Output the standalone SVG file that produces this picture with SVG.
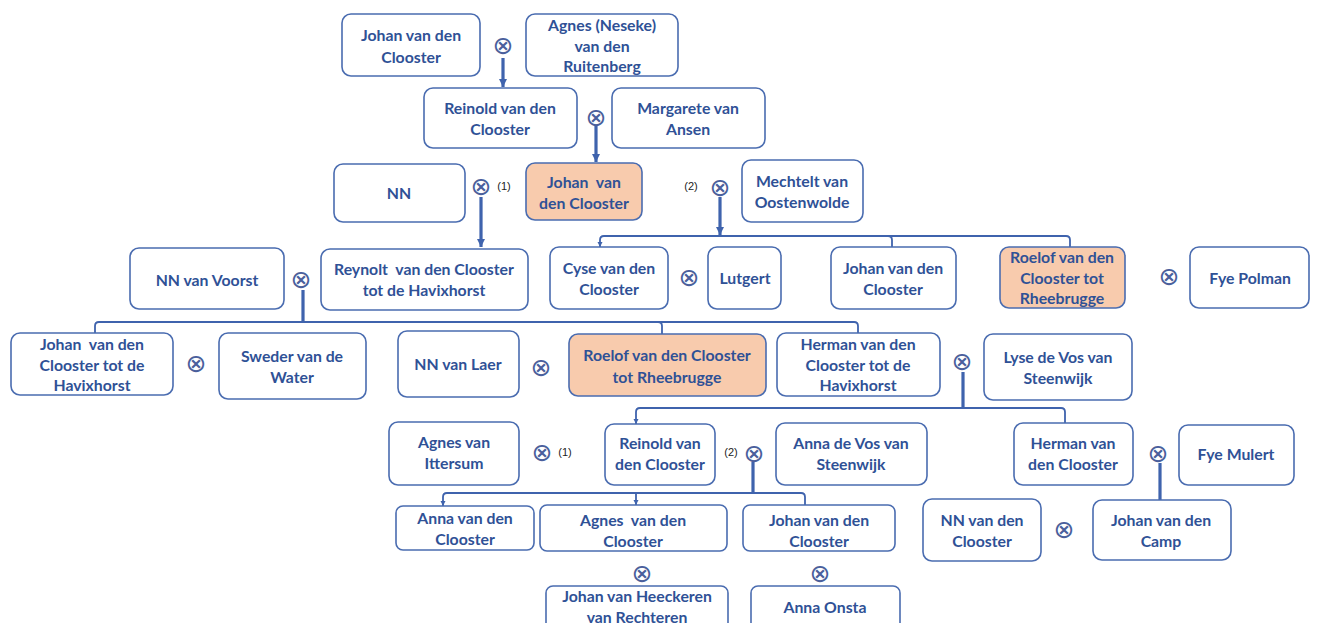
<svg xmlns="http://www.w3.org/2000/svg" width="1318" height="623" viewBox="0 0 1318 623" xml:space="preserve">
<style>
.b{fill:#fff;stroke:#4a6cb0;stroke-width:1.6}
.o{fill:#f8cbad;stroke:#4a6cb0;stroke-width:1.6}
.t{font-family:Lato,"Liberation Sans",sans-serif;font-weight:bold;font-size:15.8px;fill:#2f5196;text-anchor:middle;dominant-baseline:central;white-space:pre}
.x{font-family:"DejaVu Sans",sans-serif;font-size:25px;fill:#4a5f9c;text-anchor:middle;dominant-baseline:central}
.n{font-family:"Liberation Sans",sans-serif;font-size:11px;fill:#222;text-anchor:middle;dominant-baseline:central}
.c{fill:none;stroke:#3f63ad;stroke-width:3.2}
.s{fill:none;stroke:#3f63ad;stroke-width:1.8}
</style>
<defs>
<marker id="a" markerUnits="userSpaceOnUse" markerWidth="10" markerHeight="10" refX="8" refY="5" orient="auto" viewBox="0 0 10 10"><path d="M0,1 L8,5 L0,9 Z" fill="#3f63ad"/></marker>
<marker id="sa" markerUnits="userSpaceOnUse" markerWidth="6" markerHeight="6" refX="5" refY="3" orient="auto" viewBox="0 0 6 6"><path d="M0,0.5 L5,3 L0,5.5 Z" fill="#3f63ad"/></marker>
</defs>

<g id="connectors">
<path class="c" d="M503,58 V87" marker-end="url(#a)"/>
<path class="c" d="M596,126 V162" marker-end="url(#a)"/>
<path class="c" d="M481,197 V247" marker-end="url(#a)"/>
<path class="c" d="M720,197 V235" marker-end="url(#a)"/>
<path class="s" d="M720,236 H604 Q600,236 600,240 V247" marker-end="url(#sa)"/>
<path class="s" d="M720,236 H888 Q892,236 892,240 V247"/>
<path class="s" d="M720,236 H1066 Q1070,236 1070,240 V247"/>
<path class="c" d="M303,290 V322"/>
<path class="s" d="M303,322 H99 Q95,322 95,326 V333"/>
<path class="s" d="M303,322 H658 Q662,322 662,326 V334"/>
<path class="s" d="M303,322 H854 Q858,322 858,326 V333"/>
<path class="c" d="M963,372 V408"/>
<path class="s" d="M963,408 H640 Q636,408 636,412 V424" marker-end="url(#sa)"/>
<path class="s" d="M963,408 H1061 Q1065,408 1065,412 V423"/>
<path class="c" d="M753,462 V493"/>
<path class="s" d="M753,493 H447 Q443,493 443,497 V506" marker-end="url(#sa)"/>
<path class="s" d="M753,493 H636 V505" marker-end="url(#sa)"/>
<path class="s" d="M753,493 H801 Q805,493 805,497 V505"/>
<path class="c" d="M1160,463 V500"/>
</g>

<g id="marriage-symbols">
<text class="x" x="503" y="45">⊗</text>
<text class="x" x="596" y="117">⊗</text>
<text class="x" x="481" y="186">⊗</text>
<text class="n" x="504" y="186">(1)</text>
<text class="n" x="691" y="186">(2)</text>
<text class="x" x="720" y="187">⊗</text>
<text class="x" x="301" y="279">⊗</text>
<text class="x" x="689" y="277">⊗</text>
<text class="x" x="1169" y="276">⊗</text>
<text class="x" x="196" y="363">⊗</text>
<text class="x" x="541" y="367">⊗</text>
<text class="x" x="962" y="361">⊗</text>
<text class="x" x="542" y="452">⊗</text>
<text class="n" x="565" y="452">(1)</text>
<text class="n" x="731" y="452">(2)</text>
<text class="x" x="754" y="453">⊗</text>
<text class="x" x="1158" y="453">⊗</text>
<text class="x" x="1064" y="529">⊗</text>
<text class="x" x="642" y="573">⊗</text>
<text class="x" x="820" y="573">⊗</text>
</g>

<g id="n1"><rect class="b" x="342" y="14" width="138" height="62" rx="9"/><text class="t" x="411" y="34">Johan van den</text><text class="t" x="411" y="56">Clooster</text></g>
<g id="n2"><rect class="b" x="526" y="14" width="152" height="62" rx="9"/><text class="t" x="602" y="24">Agnes (Neseke)</text><text class="t" x="602" y="45">van den</text><text class="t" x="602" y="65">Ruitenberg</text></g>
<g id="n3"><rect class="b" x="424" y="88" width="153" height="60" rx="9"/><text class="t" x="500" y="107">Reinold van den</text><text class="t" x="500" y="128">Clooster</text></g>
<g id="n4"><rect class="b" x="612" y="88" width="153" height="60" rx="9"/><text class="t" x="688" y="107">Margarete van</text><text class="t" x="688" y="128">Ansen</text></g>
<g id="n5"><rect class="b" x="334" y="164" width="131" height="58" rx="9"/><text class="t" x="399" y="192">NN</text></g>
<g id="n6"><rect class="o" x="526" y="163" width="116" height="57" rx="9"/><text class="t" x="584" y="181">Johan  van</text><text class="t" x="584" y="202">den Clooster</text></g>
<g id="n7"><rect class="b" x="742" y="160" width="121" height="62" rx="9"/><text class="t" x="802" y="180">Mechtelt van</text><text class="t" x="802" y="201">Oostenwolde</text></g>
<g id="n8"><rect class="b" x="130" y="248" width="154" height="61" rx="9"/><text class="t" x="207" y="279">NN van Voorst</text></g>
<g id="n9"><rect class="b" x="321" y="249" width="207" height="61" rx="9"/><text class="t" x="424" y="268">Reynolt  van den Clooster</text><text class="t" x="424" y="289">tot de Havixhorst</text></g>
<g id="n10"><rect class="b" x="550" y="247" width="118" height="62" rx="9"/><text class="t" x="609" y="267">Cyse van den</text><text class="t" x="609" y="288">Clooster</text></g>
<g id="n11"><rect class="b" x="708" y="247" width="73" height="62" rx="9"/><text class="t" x="745" y="277">Lutgert</text></g>
<g id="n12"><rect class="b" x="831" y="247" width="125" height="62" rx="9"/><text class="t" x="893" y="267">Johan van den</text><text class="t" x="893" y="288">Clooster</text></g>
<g id="n13"><rect class="o" x="1000" y="247" width="125" height="61" rx="9"/><text class="t" x="1062" y="256">Roelof van den</text><text class="t" x="1062" y="277">Clooster tot</text><text class="t" x="1062" y="297">Rheebrugge</text></g>
<g id="n14"><rect class="b" x="1190" y="247" width="119" height="61" rx="9"/><text class="t" x="1250" y="277">Fye Polman</text></g>
<g id="n15"><rect class="b" x="11" y="333" width="162" height="62" rx="9"/><text class="t" x="92" y="343">Johan  van den</text><text class="t" x="92" y="364">Clooster tot de</text><text class="t" x="92" y="384">Havixhorst</text></g>
<g id="n16"><rect class="b" x="219" y="333" width="147" height="66" rx="9"/><text class="t" x="292" y="355">Sweder van de</text><text class="t" x="292" y="376">Water</text></g>
<g id="n17"><rect class="b" x="398" y="331" width="121" height="66" rx="9"/><text class="t" x="458" y="363">NN van Laer</text></g>
<g id="n18"><rect class="o" x="569" y="334" width="197" height="62" rx="9"/><text class="t" x="667" y="354">Roelof van den Clooster</text><text class="t" x="667" y="376">tot Rheebrugge</text></g>
<g id="n19"><rect class="b" x="777" y="333" width="163" height="63" rx="9"/><text class="t" x="858" y="343">Herman van den</text><text class="t" x="858" y="364">Clooster tot de</text><text class="t" x="858" y="384">Havixhorst</text></g>
<g id="n20"><rect class="b" x="984" y="334" width="148" height="66" rx="9"/><text class="t" x="1058" y="356">Lyse de Vos van</text><text class="t" x="1058" y="377">Steenwijk</text></g>
<g id="n21"><rect class="b" x="389" y="422" width="130" height="63" rx="9"/><text class="t" x="454" y="441">Agnes van</text><text class="t" x="454" y="462">Ittersum</text></g>
<g id="n22"><rect class="b" x="605" y="424" width="110" height="61" rx="9"/><text class="t" x="660" y="442">Reinold van</text><text class="t" x="660" y="463">den Clooster</text></g>
<g id="n23"><rect class="b" x="776" y="423" width="151" height="62" rx="9"/><text class="t" x="851" y="442">Anna de Vos van</text><text class="t" x="851" y="463">Steenwijk</text></g>
<g id="n24"><rect class="b" x="1014" y="423" width="119" height="62" rx="9"/><text class="t" x="1073" y="442">Herman van</text><text class="t" x="1073" y="463">den Clooster</text></g>
<g id="n25"><rect class="b" x="1179" y="425" width="115" height="60" rx="9"/><text class="t" x="1236" y="453">Fye Mulert</text></g>
<g id="n26"><rect class="b" x="396" y="506" width="138" height="44" rx="7"/><text class="t" x="465" y="517">Anna van den</text><text class="t" x="465" y="538">Clooster</text></g>
<g id="n27"><rect class="b" x="540" y="505" width="187" height="46" rx="7"/><text class="t" x="633" y="519">Agnes  van den</text><text class="t" x="633" y="540">Clooster</text></g>
<g id="n28"><rect class="b" x="743" y="505" width="152" height="46" rx="7"/><text class="t" x="819" y="519">Johan van den</text><text class="t" x="819" y="540">Clooster</text></g>
<g id="n29"><rect class="b" x="923" y="499" width="118" height="62" rx="9"/><text class="t" x="982" y="519">NN van den</text><text class="t" x="982" y="540">Clooster</text></g>
<g id="n30"><rect class="b" x="1093" y="500" width="138" height="60" rx="9"/><text class="t" x="1161" y="519">Johan van den</text><text class="t" x="1161" y="540">Camp</text></g>
<g id="n31"><rect class="b" x="546" y="586" width="182" height="50" rx="7"/><text class="t" x="637" y="595">Johan van Heeckeren</text><text class="t" x="637" y="616">van Rechteren</text></g>
<g id="n32"><rect class="b" x="751" y="586" width="149" height="50" rx="7"/><text class="t" x="825" y="606">Anna Onsta</text></g>
</svg>
